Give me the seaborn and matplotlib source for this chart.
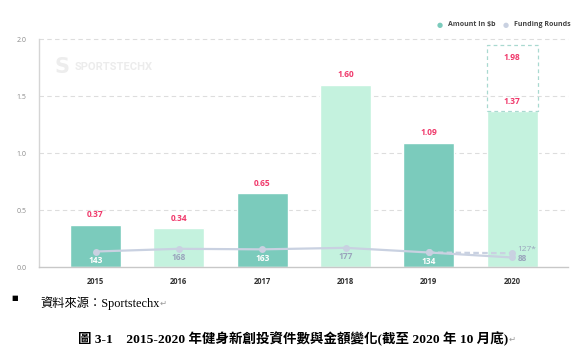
import matplotlib
matplotlib.use("Agg")
import matplotlib.pyplot as plt
import seaborn as sns
import pandas as pd
from matplotlib.patches import Rectangle

years = ["2015", "2016", "2017", "2018", "2019", "2020"]
amounts = [0.37, 0.34, 0.65, 1.60, 1.09, 1.37]
amount_labels = ["0.37", "0.34", "0.65", "1.60", "1.09", "1.37"]
projected_2020 = 1.98
rounds = [143, 168, 163, 177, 134, 88]
projected_rounds_2020 = 127
round_labels = ["143", "168", "163", "177", "134", "88"]
yticks = [0.0, 0.5, 1.0, 1.5, 2.0]
ytick_labels = ["0.0", "0.5", "1.0", "1.5", "2.0"]

DARK = "#7BCBBC"
LIGHT = "#C4F2DE"
RED = "#F0396B"
LINE = "#C9D1E1"
GREY_TXT = "#9AA4BC"
bar_colors = [DARK, LIGHT, DARK, LIGHT, DARK, LIGHT]

sns.set_theme(style="white")
plt.rcParams["font.family"] = ["Open Sans", "DejaVu Sans"]

fig = plt.figure(figsize=(5.72, 3.62), dpi=100)
ax = fig.add_axes([0.068, 0.2624, 0.925, 0.6286])

df = pd.DataFrame({"year": years, "amount": amounts})
sns.barplot(data=df, x="year", y="amount", hue="year", palette=bar_colors,
            legend=False, width=0.61, ax=ax, saturation=1)

ax.set_xlim(-0.68, 5.67)
ax.set_ylim(0, 2.0)
ax.set_yticks(yticks)
ax.set_yticklabels(ytick_labels)
ax.set_xlabel("")
ax.set_ylabel("")
ax.tick_params(axis="y", labelsize=5, colors="#8A8A8A", length=0, pad=9)
ax.tick_params(axis="x", labelsize=5.5, colors="#333333", length=0, pad=7)
for t in ax.get_xticklabels():
    t.set_fontweight("bold")
for y in yticks[1:]:
    ax.axhline(y, color="#DDDDDD", lw=0.8, ls=(0, (4, 3)), zorder=0, clip_on=False)
for s in ["top", "right"]:
    ax.spines[s].set_visible(False)
ax.spines["left"].set_color("#D5D5D5")
ax.spines["left"].set_linewidth(1.0)
ax.spines["bottom"].set_color("#C8C8C8")
ax.spines["bottom"].set_linewidth(1.0)

# amount labels
for i, (v, lab) in enumerate(zip(amounts, amount_labels)):
    ax.annotate(lab, (i, v), xytext=(0, 4), textcoords="offset points",
                ha="center", va="bottom", fontsize=6, fontweight="bold", color=RED)

# projected 2020 dashed box
w = 0.61
ax.add_patch(Rectangle((5 - w / 2, amounts[5]), w, projected_2020 - amounts[5] - 0.03,
                       fill=False, ec="#A9D9D0", lw=0.9, ls=(0, (3, 2.5)), zorder=3))
ax.annotate(f"{projected_2020:.2f}", (5, projected_2020), xytext=(0, -8),
            textcoords="offset points", ha="center", va="top",
            fontsize=6, fontweight="bold", color=RED)

# funding rounds on secondary axis
ax2 = ax.twinx()
ax2.set_ylim(0, 2100)
ax2.axis("off")
xs = list(range(len(years)))
sns.lineplot(x=xs, y=rounds, ax=ax2, color=LINE, lw=1.6, marker="o",
             markersize=5, markeredgewidth=0, zorder=4)
sns.lineplot(x=[4, 5], y=[rounds[4], projected_rounds_2020], ax=ax2, color=LINE,
             lw=1.6, ls=(0, (2.5, 1.5)), marker="o", markersize=5,
             markeredgewidth=0, zorder=4)
ax2.set_xlim(-0.68, 5.67)
for i, (r, lab) in enumerate(zip(rounds, round_labels)):
    if i == 5:
        ax2.annotate(lab, (i, r), xytext=(4, -0.5), textcoords="offset points",
                     ha="left", va="center", fontsize=6, fontweight="bold", color=GREY_TXT)
    else:
        col = "white" if bar_colors[i] == DARK else GREY_TXT
        ax2.annotate(lab, (i, r), xytext=(0, -3), textcoords="offset points",
                     ha="center", va="top", fontsize=6, fontweight="bold", color=col)
ax2.annotate(f"{projected_rounds_2020}*", (5, projected_rounds_2020), xytext=(4, 2.5),
             textcoords="offset points", ha="left", va="center", fontsize=6,
             color=GREY_TXT)

# legend
fig.text(0.769, 0.931, "●", color=DARK, fontsize=5, ha="center", va="center",
         family=["DejaVu Sans"])
fig.text(0.784, 0.931, "Amount In $b", color="#444444", fontsize=5, fontweight="bold",
         ha="left", va="center")
fig.text(0.884, 0.931, "●", color="#C9D1E1", fontsize=5, ha="center", va="center",
         family=["DejaVu Sans"])
fig.text(0.898, 0.931, "Funding Rounds", color="#444444", fontsize=5, fontweight="bold",
         ha="left", va="center")

# watermark
fig.text(0.109, 0.815, "S", color="#EDEDED", fontsize=15, fontweight="bold",
         ha="center", va="center", family=["DejaVu Sans"])
fig.text(0.131, 0.815, "SPORTSTECHX", color="#ECECEC", fontsize=8, fontweight="bold",
         ha="left", va="center", family=["Roboto", "DejaVu Sans"], stretch="condensed")

# caption area
serif_cjk = ["Liberation Serif", "Noto Sans CJK TC"]
fig.text(0.026, 0.178, "■", color="#000000", fontsize=5, ha="center", va="center",
         family=["DejaVu Sans"])
src = fig.text(0.07, 0.163, "資料來源：Sportstechx", color="#000000", fontsize=8.8,
               ha="left", va="center", family=serif_cjk)
cap = fig.text(0.512, 0.064, "圖 3-1　2015-2020 年健身新創投資件數與金額變化(截至 2020 年 10 月底)",
               color="#000000", fontsize=9.7, fontweight="bold", ha="center", va="center",
               family=serif_cjk)
fig.canvas.draw()
r = fig.canvas.get_renderer()
for t in (src, cap):
    bb = t.get_window_extent(r)
    fig.text(bb.x1 / fig.bbox.width + 0.001, t.get_position()[1], "↵", color="#999999",
             fontsize=6, ha="left", va="center", family=["DejaVu Sans"])

fig.savefig("out.png", dpi=100)
